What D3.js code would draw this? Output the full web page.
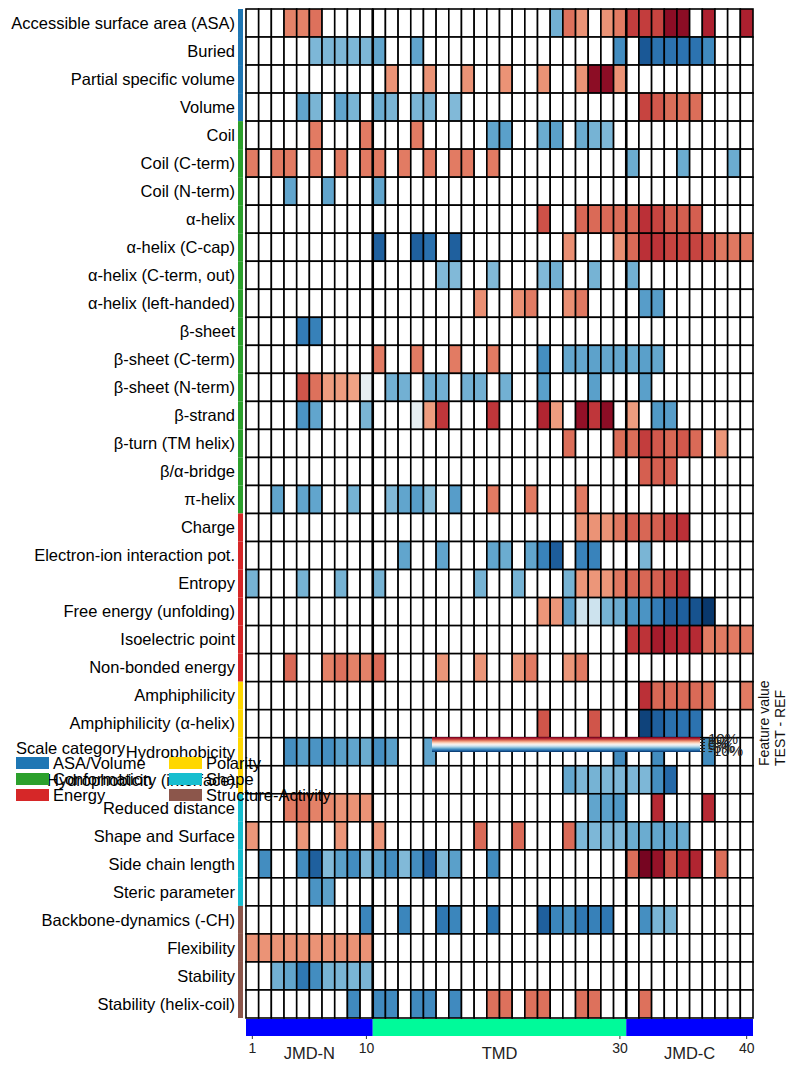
<!DOCTYPE html>
<html>
<head>
<meta charset="utf-8">
<script src="https://cdn.jsdelivr.net/npm/d3@7"></script>
<style>
  html, body { margin: 0; padding: 0; background: #fff; }
  svg { display: block; font-family: "Liberation Sans", Arial, sans-serif; }
</style>
</head>
<body>
<svg id="chart" width="800" height="1071"></svg>
<script>
// ---------- DATA ----------
const features = [
  "Accessible surface area (ASA)", "Buried", "Partial specific volume", "Volume",
  "Coil", "Coil (C-term)", "Coil (N-term)", "α-helix", "α-helix (C-cap)",
  "α-helix (C-term, out)", "α-helix (left-handed)", "β-sheet", "β-sheet (C-term)",
  "β-sheet (N-term)", "β-strand", "β-turn (TM helix)", "β/α-bridge", "π-helix",
  "Charge", "Electron-ion interaction pot.", "Entropy", "Free energy (unfolding)",
  "Isoelectric point", "Non-bonded energy",
  "Amphiphilicity", "Amphiphilicity (α-helix)", "Hydrophobicity", "Hydrophobicity (interface)",
  "Reduced distance", "Shape and Surface", "Side chain length", "Steric parameter",
  "Backbone-dynamics (-CH)", "Flexibility", "Stability", "Stability (helix-coil)"
];
const featureCategory = [
  "ASA/Volume", "ASA/Volume", "ASA/Volume", "ASA/Volume",
  "Conformation", "Conformation", "Conformation", "Conformation", "Conformation",
  "Conformation", "Conformation", "Conformation", "Conformation", "Conformation",
  "Conformation", "Conformation", "Conformation", "Conformation",
  "Energy", "Energy", "Energy", "Energy", "Energy", "Energy",
  "Polarity", "Polarity", "Polarity", "Polarity",
  "Shape", "Shape", "Shape", "Shape",
  "Structure-Activity", "Structure-Activity", "Structure-Activity", "Structure-Activity"
];
const categoryNames = ["ASA/Volume", "Conformation", "Energy", "Polarity", "Shape", "Structure-Activity"];
const categoryColors = ["#1f77b4", "#2ca02c", "#d62728", "#ffd700", "#17becf", "#8c564b"];

const positions = d3.range(1, 41);
const tickLabels = [1, 10, 30, 40];
const regionNames = ["JMD-N", "TMD", "JMD-C"];
const regionStart = [1, 11, 31];
const regionEnd = [10, 30, 40];
const regionColors = ["#0000ff", "#00fa9a", "#0000ff"];
const colorbarTicks = [10, 5, 0, -5, -10];

// Feature value (TEST - REF, %) per row: [position, value]; unlisted positions = 0
const cellValues = [
  [[4,5],[5,5],[6,5.5],[25,-4.8],[26,5.5],[27,4.5],[29,4.5],[30,5.2],[31,7],[32,7],[33,6.8],[34,9],[35,9],[37,8],[40,8]],
  [[6,-4.5],[7,-4.5],[8,-4.5],[9,-4.5],[10,-4.5],[11,-5.3],[14,-5.3],[30,-6.3],[32,-8.5],[33,-7.4],[34,-7.4],[35,-7.4],[36,-7.4],[37,-6.4]],
  [[12,4.5],[15,4.5],[18,4.5],[21,4.5],[24,4.5],[27,4.5],[28,9],[29,9],[30,4.5]],
  [[5,-5.3],[6,-4.6],[8,-5.3],[9,-4.6],[11,-5],[12,-4.6],[14,-4.6],[15,-4.6],[17,-4.4],[32,6.8],[33,6.2],[34,5.6],[35,5.6],[36,5.6]],
  [[6,5.2],[10,5.2],[14,5.2],[20,-5.3],[21,-5.5],[24,-5],[25,-5.5],[27,-5],[28,-4.7],[29,-4.5]],
  [[1,5.2],[3,5.2],[4,5.2],[6,5.2],[8,5.2],[10,5.2],[11,5.2],[13,5.2],[15,5.2],[17,5.2],[18,5.2],[20,5.2],[31,-5],[35,-5],[39,-5]],
  [[4,-5.3],[7,-5.3],[11,-5.3]],
  [[24,6.4],[27,5.8],[28,5.7],[29,5.7],[30,5.6],[31,5.8],[32,7.4],[33,6.8],[34,6],[35,6],[36,6]],
  [[11,-8.2],[14,-8.2],[15,-7.5],[17,-8.2],[26,4.6],[30,4.6],[31,5.7],[32,7.4],[33,7.3],[34,6.8],[35,6.8],[36,6.8],[37,6.2],[38,5.3],[39,5.3],[40,5.2]],
  [[16,-4.4],[17,-4.4],[20,-4.4],[24,-4.4],[25,-4.8],[28,-4.7],[31,-4.8]],
  [[19,4.6],[22,4.6],[23,5.2],[26,4.6],[27,5.3],[32,-5.6],[33,-5.6]],
  [[5,-7],[6,-6.8]],
  [[11,5.2],[14,5.2],[17,5.2],[20,5.2],[24,-6.2],[26,-5.2],[27,-5.2],[28,-5.4],[29,-5.2],[30,-5.2],[31,-5],[32,-5.5],[33,-5.2]],
  [[5,6.3],[6,5.5],[7,4.2],[8,4.2],[9,4],[10,-0.8],[12,-4.8],[13,-4.8],[15,-4.8],[16,-4.8],[18,-4.8],[19,-4.8],[21,-4.8],[24,-5.5],[28,-5.5],[32,-5.5]],
  [[5,-6],[6,-5.3],[10,-4.6],[14,-0.8],[15,4.2],[16,7.2],[20,7.2],[24,7.8],[25,4.2],[27,8.8],[28,7.2],[29,9],[31,4.2],[33,-5.8],[34,-5.6]],
  [[26,5.6],[30,5.6],[31,5.6],[32,7],[33,6.2],[34,5.8],[35,6.2],[36,5.7],[38,4.4]],
  [[32,6],[33,6],[34,6]],
  [[3,-5.3],[5,-5.3],[6,-5.3],[9,-4.7],[12,-4.4],[13,-5.3],[14,-5.6],[15,-4.2],[17,-5.6],[20,5.2],[23,5.2],[27,5.2]],
  [[27,4.5],[28,4.5],[29,4.5],[30,5.3],[31,6],[32,5.8],[33,6],[34,6.8],[35,7.4]],
  [[13,-5.3],[16,-5.3],[20,-5.3],[21,-5],[23,-5.3],[24,-6.7],[25,-8.3],[27,-6.7],[28,-6.7],[32,-4.6]],
  [[1,-4.7],[5,-4.7],[8,-4.7],[11,-4.7],[19,-4.7],[22,-4.7],[26,-4.7],[27,4.4],[28,4.4],[29,4.4],[30,5.3],[31,5.8],[32,5.8],[33,6],[34,6.8],[35,7.4]],
  [[24,4.4],[25,4.4],[26,-5.5],[27,-2],[28,-2],[29,-4.7],[30,-5],[31,-6],[32,-6],[33,-7],[34,-8.2],[35,-8.2],[36,-8.7],[37,-9.7]],
  [[31,7.2],[32,7.3],[33,8.2],[34,7.8],[35,7.6],[36,7.6],[37,5.2],[38,5.2],[39,5.2],[40,5.2]],
  [[4,5.7],[7,5],[8,5.5],[9,5],[10,5],[11,5.7],[16,4.4],[19,4.4],[22,4.4],[23,5.2],[26,4.4],[27,5.2]],
  [[32,7.4],[33,5.8],[34,5.7],[35,5.7],[36,5.7],[37,5.2],[40,5.2]],
  [[24,6.3],[28,6.3],[32,-9.3],[33,-8.2],[34,-7.5],[35,-7.4],[36,-7.4]],
  [[4,-6.2],[5,-5.5],[6,-6],[7,-6.2],[8,-5.5],[9,-5.3],[10,-5],[11,-6.2],[12,-5.5],[15,-5.3],[30,-6.3],[33,-6.3],[37,-6.3]],
  [[26,-5.2],[27,-4.5],[28,-4.7],[29,-4.5],[30,-4.5],[31,-4.5],[32,-4.5],[33,-6.2],[34,-7.8]],
  [[4,5.2],[5,5.5],[6,5],[7,4.8],[8,4.5],[9,4.5],[10,4.5],[28,-5.3],[29,-5.5],[30,-5.8],[33,7.6],[37,7.6]],
  [[1,4.4],[5,4.4],[8,4.4],[11,4.4],[19,5.7],[22,5.7],[26,5.7],[27,-4.5],[28,-4.5],[29,-4.5],[30,-4.5],[31,-5],[32,-5],[33,-5.3],[34,-5.3],[35,-5]],
  [[2,-6.3],[5,-6.3],[6,-8.2],[7,-4.4],[8,-5.5],[9,-6.3],[10,-4.4],[11,-5.5],[12,-6.3],[13,-4.4],[14,-6.3],[15,-8.2],[16,-4.4],[17,-5.5],[20,-6.3],[31,5.6],[32,9.6],[33,8.7],[34,6.3],[35,7.6],[36,7.8],[38,5.6]],
  [[6,-6],[7,-5.4]],
  [[10,-6.6],[13,-6.6],[16,-7.2],[17,-6.6],[20,-7.2],[24,-8.2],[25,-6.6],[26,-6],[27,-7.2],[28,-6.8],[29,-7.2],[32,-6.2],[33,-4.6],[34,-4.6]],
  [[1,4.5],[2,4.5],[3,4.5],[4,4.5],[5,4.5],[6,4.5],[7,4.5],[8,4.5],[9,4.5],[10,4.5]],
  [[3,-4.8],[4,-5.3],[5,-7.2],[6,-6.3],[7,-4.7],[8,-4.6],[9,-4.6],[10,-4.6]],
  [[9,-6.4],[11,-6.4],[12,-6.4],[14,-6.4],[15,-6.4],[17,-6.4],[20,5.5],[21,5.5],[23,5.5],[24,5.5],[27,5.5],[28,5.5],[32,5.5]]
];

// ---------- DRAW ----------
const svg = d3.select("#chart");
const FONT = 16.5;

const x = d3.scaleBand().domain(positions).range([246, 753]).padding(0);
const y = d3.scaleBand().domain(features).range([9, 1018]).padding(0);
const color = d3.scaleSequential(t => d3.interpolateRdBu(1 - t)).domain([-10, 10]);
const catColor = d3.scaleOrdinal().domain(categoryNames).range(categoryColors);

// cells
const cells = [];
features.forEach((f, i) => {
  const m = new Map(cellValues[i]);
  positions.forEach(p => cells.push({ f, p, v: m.has(p) ? m.get(p) : 0 }));
});
svg.append("g").selectAll("rect").data(cells).join("rect")
  .attr("x", d => x(d.p))
  .attr("y", d => y(d.f))
  .attr("width", x.bandwidth())
  .attr("height", y.bandwidth())
  .attr("fill", d => d.v === 0 ? "#ffffff" : color(d.v))
  .attr("stroke", "#000")
  .attr("stroke-width", 1.6);

// region separators
[10, 30].forEach(p => {
  svg.append("line")
    .attr("x1", x(p) + x.bandwidth()).attr("x2", x(p) + x.bandwidth())
    .attr("y1", y.range()[0]).attr("y2", y.range()[1])
    .attr("stroke", "#000").attr("stroke-width", 2.6);
});

// category strip
svg.append("g").selectAll("rect").data(features).join("rect")
  .attr("x", 238).attr("width", 5)
  .attr("y", d => y(d)).attr("height", y.bandwidth())
  .attr("fill", (d, i) => catColor(featureCategory[i]));

// y labels
svg.append("g").selectAll("text").data(features).join("text")
  .attr("x", 235)
  .attr("y", d => y(d) + y.bandwidth() / 2)
  .attr("dy", "0.35em")
  .attr("text-anchor", "end")
  .attr("font-size", FONT)
  .attr("fill", "#000")
  .text(d => d);

// bottom region bar
svg.append("g").selectAll("rect").data(regionNames).join("rect")
  .attr("x", (d, i) => x(regionStart[i]))
  .attr("width", (d, i) => x(regionEnd[i]) + x.bandwidth() - x(regionStart[i]))
  .attr("y", 1019).attr("height", 17)
  .attr("fill", (d, i) => regionColors[i]);

// bottom axis
const xAxis = svg.append("g").attr("transform", "translate(0,1036)")
  .call(d3.axisBottom(x).tickValues(tickLabels).tickSize(3).tickPadding(4));
xAxis.select(".domain").remove();
xAxis.selectAll("text").attr("font-size", 14).attr("fill", "#222").attr("font-family", "Liberation Sans, Arial, sans-serif");
xAxis.selectAll("line").attr("stroke", "#333");

// region labels
svg.append("g").selectAll("text").data(regionNames).join("text")
  .attr("x", (d, i) => (x(regionStart[i]) + x(regionEnd[i]) + x.bandwidth()) / 2)
  .attr("y", 1059)
  .attr("text-anchor", "middle")
  .attr("font-size", FONT)
  .attr("fill", "#222")
  .text(d => d);

// right label
const rl = svg.append("text")
  .attr("transform", "translate(769,766) rotate(-90)")
  .attr("font-size", 14)
  .attr("fill", "#111");
rl.append("tspan").attr("x", 0).attr("y", 0).text("Feature value");
rl.append("tspan").attr("x", 0).attr("y", 16).text("TEST - REF");

// legend
const lg = svg.append("g");
lg.append("text").attr("x", 16).attr("y", 754).attr("font-size", FONT).text("Scale category");
categoryNames.forEach((c, i) => {
  const col = Math.floor(i / 3), row = i % 3;
  const lx = 16 + col * 153, ly = 757 + row * 16;
  lg.append("rect").attr("x", lx).attr("y", ly).attr("width", 33).attr("height", 12).attr("fill", catColor(c));
  lg.append("text").attr("x", lx + 37).attr("y", ly + 12).attr("font-size", FONT).text(c);
});

// colorbar
const defs = svg.append("defs");
const grad = defs.append("linearGradient").attr("id", "cbgrad")
  .attr("x1", "0").attr("y1", "0").attr("x2", "0").attr("y2", "1");
d3.range(0, 1.0001, 0.05).forEach(t => {
  grad.append("stop").attr("offset", t).attr("stop-color", color(10 - 20 * t));
});
svg.append("rect").attr("x", 432).attr("y", 737).attr("width", 268).attr("height", 15)
  .attr("fill", "url(#cbgrad)");
const cbScale = d3.scaleLinear().domain([10, -10]).range([739, 751]);
const cbAxis = svg.append("g").attr("transform", "translate(700,0)")
  .call(d3.axisRight(cbScale).tickValues(colorbarTicks).tickFormat(d => d + "%").tickSize(5).tickPadding(3));
cbAxis.select(".domain").remove();
cbAxis.selectAll("text").attr("font-size", 15).attr("fill", "#222").attr("font-family", "Liberation Sans, Arial, sans-serif");
cbAxis.selectAll("line").attr("stroke", "#222");
</script>
</body>
</html>
